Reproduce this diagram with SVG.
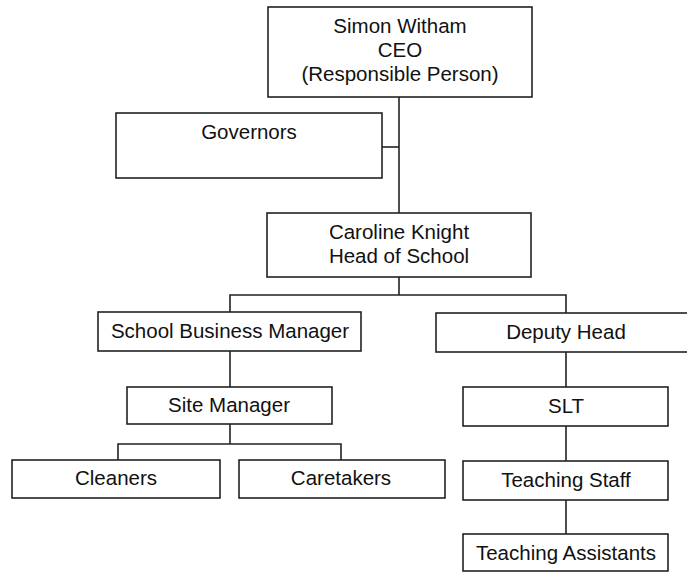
<svg xmlns="http://www.w3.org/2000/svg" width="687" height="573" viewBox="0 0 687 573">
<style>
.box{fill:#fff;stroke:#222;stroke-width:1.6}
.t{font-family:"Liberation Sans",Arial,sans-serif;font-size:20.5px;fill:#111;text-anchor:middle}
.c{fill:none;stroke:#222;stroke-width:1.6}
</style>
<rect width="687" height="573" fill="#fff"/>
<g id="connectors">
<path class="c" d="M399 97V213"/>
<path class="c" d="M382 147H399"/>
<path class="c" d="M399 277V295M230 312V295H566V313"/>
<path class="c" d="M230 351V387"/>
<path class="c" d="M230 424V444M118 460V444H341V460"/>
<path class="c" d="M566 352V387M566 426V461M566 500V534"/>
</g>
<g id="ceo"><rect class="box" x="268" y="7" width="264" height="90"/>
<text class="t" x="400" y="33">Simon Witham</text><text class="t" x="400" y="57">CEO</text><text class="t" x="400" y="81">(Responsible Person)</text></g>
<g id="governors"><rect class="box" x="116" y="113" width="266" height="65"/>
<text class="t" x="249" y="139">Governors</text></g>
<g id="head"><rect class="box" x="267" y="213" width="264" height="64"/>
<text class="t" x="399" y="239">Caroline Knight</text><text class="t" x="399" y="263">Head of School</text></g>
<g id="sbm"><rect class="box" x="98" y="312" width="263" height="39"/>
<text class="t" x="230" y="338">School Business Manager</text></g>
<g id="deputy"><rect class="box" x="436" y="313" width="260" height="39"/>
<text class="t" x="566" y="339">Deputy Head</text></g>
<g id="site"><rect class="box" x="127" y="387" width="205" height="37"/>
<text class="t" x="229" y="412">Site Manager</text></g>
<g id="slt"><rect class="box" x="463" y="387" width="205" height="39"/>
<text class="t" x="566" y="413">SLT</text></g>
<g id="cleaners"><rect class="box" x="12" y="460" width="208" height="38"/>
<text class="t" x="116" y="485">Cleaners</text></g>
<g id="caretakers"><rect class="box" x="239" y="460" width="206" height="38"/>
<text class="t" x="341" y="485">Caretakers</text></g>
<g id="teaching"><rect class="box" x="463" y="461" width="205" height="39"/>
<text class="t" x="566" y="487">Teaching Staff</text></g>
<g id="assistants"><rect class="box" x="463" y="534" width="205" height="37"/>
<text class="t" x="566" y="560">Teaching Assistants</text></g>
</svg>
